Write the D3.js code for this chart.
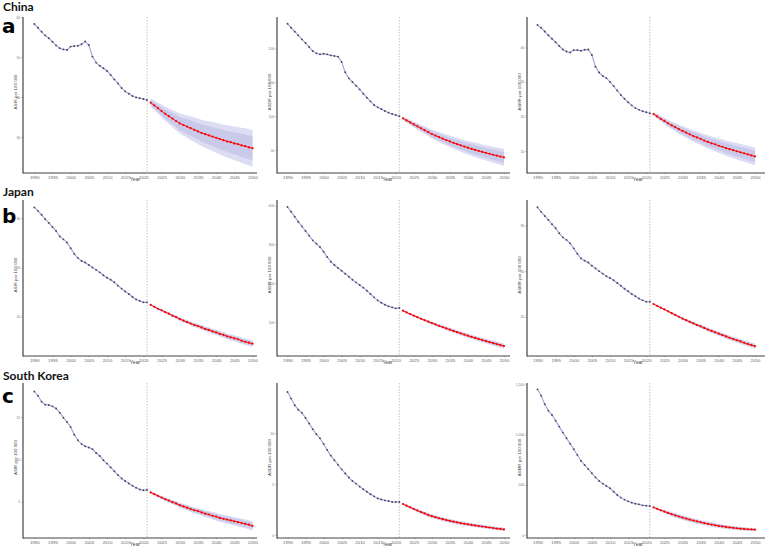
<!DOCTYPE html>
<html><head><meta charset="utf-8">
<script src="https://cdn.jsdelivr.net/npm/d3@7"></script>
<style>body{margin:0;background:#fff}svg{display:block}</style>
</head><body>
<svg id="chart" width="770" height="551"></svg>
<script>
// ---------- categories / labels ----------
const histYears = d3.range(1990, 2022);
const projYears = d3.range(2022, 2051);
const xTickYears = [1990,1995,2000,2005,2010,2015,2020,2025,2030,2035,2040,2045,2050];
const countries = ["China", "Japan", "South Korea"];
const panelLetters = ["a", "b", "c"];
const measureLabels = ["ASIR per 100 000", "ASDR per 100 000", "ASMR per 100 000"];
const cutYear = 2021;

// ---------- China ----------
const chinaIncHist = [58.25,57.3,56.3,55.4,54.7,53.8,52.9,52.2,51.9,51.75,52.6,52.75,52.8,53.2,53.9,53.0,50.1,48.6,47.8,47.2,46.5,45.5,44.4,43.4,42.25,41.4,40.8,40.25,39.9,39.7,39.5,39.25];
const chinaIncProj = [38.6,37.9,37.2,36.5,35.8,35.2,34.6,34.0,33.4,33.0,32.6,32.2,31.8,31.4,31.0,30.7,30.4,30.1,29.8,29.5,29.2,28.9,28.7,28.4,28.2,27.9,27.7,27.4,27.2];
const chinaIncSE = [0.52,0.61,0.71,0.80,0.90,0.99,1.09,1.18,1.27,1.35,1.42,1.49,1.56,1.62,1.68,1.73,1.79,1.85,1.91,1.96,2.01,2.05,2.10,2.15,2.19,2.24,2.28,2.31,2.36];
const chinaIncTicks = [30,40,50,60];

const chinaDalyHist = [236.3,230.4,224.6,219.1,213.2,207.8,201.9,196.0,192.6,191.1,192.1,191.1,189.6,188.7,187.7,179.8,164.6,155.7,150.3,144.9,139.5,133.1,127.2,121.8,116.4,112.9,110.5,107.5,105.1,103.1,101.6,99.7];
const chinaDalyProj = [96.7,93.7,90.7,87.8,84.9,82.0,79.2,76.4,73.6,71.3,69.0,66.8,64.7,62.6,60.6,58.7,56.9,55.1,53.4,51.8,50.2,48.7,47.2,45.8,44.4,43.0,41.7,40.4,39.1];
const chinaDalySE = [1.39,1.64,1.89,2.14,2.39,2.65,2.90,3.15,3.40,3.59,3.78,3.97,4.16,4.32,4.47,4.63,4.79,4.95,5.10,5.23,5.36,5.48,5.61,5.73,5.86,5.99,6.08,6.17,6.30];
const chinaDalyTicks = [50,100,150,200];

const chinaMortHist = [46.5,45.7,44.6,43.5,42.5,41.5,40.4,39.4,38.8,38.5,39.2,39.2,39.0,39.3,39.4,37.8,34.4,32.7,31.7,31.1,30.0,28.8,27.5,26.2,25.1,24.1,23.2,22.4,21.9,21.5,21.2,20.9];
const chinaMortProj = [20.7,20.0,19.3,18.7,18.0,17.4,16.9,16.3,15.8,15.3,14.8,14.3,13.9,13.5,13.0,12.6,12.2,11.9,11.5,11.2,10.8,10.5,10.2,9.9,9.6,9.3,9.0,8.7,8.4];
const chinaMortSE = [0.29,0.35,0.40,0.45,0.51,0.56,0.61,0.67,0.72,0.76,0.80,0.84,0.88,0.91,0.94,0.98,1.01,1.04,1.08,1.10,1.13,1.16,1.18,1.21,1.24,1.26,1.28,1.30,1.33];
const chinaMortTicks = [10,20,30,40];

// ---------- Japan ----------
const japanIncHist = [32.2,31.5,30.7,29.8,29.05,28.2,27.4,26.3,25.7,25.05,23.9,22.75,21.9,21.3,21.0,20.5,20.0,19.5,19.0,18.4,17.9,17.5,17.0,16.3,15.7,15.1,14.6,14.0,13.5,13.2,12.9,12.9];
const japanIncProj = [12.4,12.0,11.6,11.3,10.9,10.6,10.2,9.9,9.5,9.2,8.9,8.6,8.3,8.1,7.8,7.5,7.3,7.0,6.8,6.5,6.3,6.0,5.8,5.6,5.4,5.1,4.9,4.7,4.5];
const japanIncSE = [0.08,0.09,0.11,0.12,0.13,0.15,0.16,0.18,0.19,0.20,0.21,0.22,0.23,0.24,0.25,0.26,0.27,0.27,0.28,0.29,0.30,0.30,0.31,0.32,0.33,0.33,0.34,0.34,0.35];
const japanIncTicks = [10,20,30];

const japanDalyHist = [396.6,384.6,371.7,358.8,346.8,334.7,322.7,310.7,302.1,293.5,281.4,267.7,255.6,247.0,239.3,232.4,224.7,216.9,209.2,202.3,195.4,188.6,180.8,172.2,163.6,155.9,149.9,144.7,140.4,137.8,135.3,136.1];
const japanDalyProj = [129.2,124.8,120.5,116.4,112.4,108.5,104.7,101.0,97.4,93.8,90.3,86.9,83.6,80.3,77.1,73.9,70.8,67.7,64.7,61.8,59.0,56.2,53.5,50.8,48.2,45.6,43.1,40.6,38.1];
const japanDalySE = [0.77,0.91,1.05,1.19,1.33,1.47,1.61,1.75,1.89,2.00,2.10,2.20,2.31,2.40,2.49,2.57,2.66,2.75,2.84,2.91,2.98,3.05,3.12,3.19,3.26,3.33,3.38,3.43,3.50];
const japanDalyTicks = [100,200,300,400];

const japanMortHist = [34.0,33.0,32.1,31.2,30.3,29.4,28.3,27.4,26.85,26.1,25.0,23.8,22.8,22.3,21.9,21.2,20.6,20.0,19.45,18.9,18.5,18.0,17.4,16.8,16.15,15.6,15.0,14.5,14.0,13.6,13.3,13.3];
const japanMortProj = [12.8,12.4,12.0,11.6,11.2,10.8,10.4,10.0,9.6,9.25,8.9,8.55,8.2,7.9,7.55,7.2,6.9,6.6,6.3,6.0,5.7,5.4,5.1,4.85,4.6,4.3,4.05,3.8,3.55];
const japanMortSE = [0.07,0.08,0.09,0.10,0.11,0.13,0.14,0.15,0.16,0.17,0.18,0.19,0.20,0.21,0.21,0.22,0.23,0.24,0.24,0.25,0.26,0.26,0.27,0.27,0.28,0.29,0.29,0.29,0.30];
const japanMortTicks = [10,20,30];

// ---------- South Korea ----------
const koreaIncHist = [18.0,17.5,16.8,16.45,16.4,16.25,16.0,15.5,14.9,14.4,13.8,12.9,12.25,11.8,11.55,11.4,11.2,10.75,10.4,9.9,9.5,9.05,8.6,8.15,7.75,7.45,7.15,6.9,6.65,6.45,6.35,6.4];
const koreaIncProj = [6.1,5.9,5.7,5.5,5.3,5.15,4.95,4.8,4.6,4.45,4.3,4.15,4.0,3.9,3.75,3.6,3.5,3.35,3.25,3.1,3.0,2.9,2.8,2.7,2.6,2.5,2.4,2.3,2.15];
const koreaIncSE = [0.06,0.07,0.08,0.10,0.11,0.12,0.13,0.14,0.15,0.16,0.17,0.18,0.18,0.19,0.20,0.21,0.21,0.22,0.23,0.23,0.24,0.24,0.25,0.25,0.26,0.27,0.27,0.27,0.28];
const koreaIncTicks = [5,10,15];

const koreaDalyHist = [14.05,13.4,12.75,12.3,12.0,11.5,10.95,10.4,9.9,9.5,8.95,8.35,7.8,7.35,6.9,6.45,6.05,5.65,5.3,5.05,4.75,4.5,4.25,4.0,3.8,3.6,3.5,3.4,3.35,3.25,3.25,3.25];
const koreaDalyProj = [3.05,2.88,2.72,2.56,2.41,2.26,2.12,1.98,1.85,1.75,1.65,1.56,1.47,1.39,1.31,1.24,1.17,1.11,1.05,0.99,0.94,0.89,0.84,0.79,0.74,0.69,0.64,0.60,0.55];
const koreaDalySE = [0.05,0.06,0.07,0.08,0.09,0.095,0.10,0.10,0.10,0.10,0.10,0.10,0.10,0.10,0.10,0.10,0.10,0.095,0.095,0.09,0.09,0.09,0.09,0.085,0.085,0.085,0.08,0.08,0.08];
const koreaDalyTicks = [0,5,10];

const koreaMortHist = [1450,1387,1301,1238,1195,1138,1079,1019,963,909,853,797,737,697,657,614,574,538,511,488,465,431,398,372,352,335,322,312,305,295,292,289];
const koreaMortProj = [275,260,246,233,220,207,195,184,173,163,153,144,135,127,119,111,104,97,90,85,80,75,71,67,63,60,57,55,53];
const koreaMortSE = [5,6,7,8,9,10,11,11.5,12,12,12,12,12,11.5,11.5,11,11,11,10.5,10.5,10,10,10,9.5,9.5,9,9,8.5,8.5];
const koreaMortTicks = [0,500,1000,1500];

// ---------- layout (positions / scales, not data) ----------
const rowTop = [17, 200, 383];
const rowBottom = [173, 356, 538];
const titleY = [11.2, 196.2, 380.2];
const letterY = [32.6, 223, 403.4];
const colAxisX = [23, 277, 527];
const colX0 = [34.3, 287.5, 537.5];
const colX1 = [252.5, 504, 755];
const colAxisEnd = [257, 510, 765];
const yDomains = [
  [[21, 60], [16.1, 246.2], [3.6, 48.8]],
  [[2.0, 33.7], [12.4, 414.7], [1.4, 35.6]],
  [[0.73, 19.0], [-0.29, 14.93], [-30, 1513]]
];

const panels = [
  [ {h: chinaIncHist, p: chinaIncProj, se: chinaIncSE, t: chinaIncTicks},
    {h: chinaDalyHist, p: chinaDalyProj, se: chinaDalySE, t: chinaDalyTicks},
    {h: chinaMortHist, p: chinaMortProj, se: chinaMortSE, t: chinaMortTicks} ],
  [ {h: japanIncHist, p: japanIncProj, se: japanIncSE, t: japanIncTicks},
    {h: japanDalyHist, p: japanDalyProj, se: japanDalySE, t: japanDalyTicks},
    {h: japanMortHist, p: japanMortProj, se: japanMortSE, t: japanMortTicks} ],
  [ {h: koreaIncHist, p: koreaIncProj, se: koreaIncSE, t: koreaIncTicks},
    {h: koreaDalyHist, p: koreaDalyProj, se: koreaDalySE, t: koreaDalyTicks},
    {h: koreaMortHist, p: koreaMortProj, se: koreaMortSE, t: koreaMortTicks} ]
];

const Z95 = 1.96, Z80 = 1.2816;
const svg = d3.select("#chart");
const FONT = "'Liberation Sans', Arial, sans-serif";

for (let r = 0; r < 3; r++) {
  svg.append("text").attr("x", 3).attr("y", titleY[r])
    .attr("font-family", "Lato, 'Open Sans', sans-serif").attr("font-weight", 700)
    .attr("font-size", 12).attr("fill", "#111").text(countries[r]);
  svg.append("text").attr("x", 2).attr("y", letterY[r])
    .attr("font-family", "'DejaVu Sans', sans-serif").attr("font-weight", 700)
    .attr("font-size", 20).attr("fill", "#000").text(panelLetters[r]);

  for (let c = 0; c < 3; c++) {
    const d = panels[r][c];
    const x = d3.scaleLinear().domain([1990, 2050]).range([colX0[c], colX1[c]]);
    const y = d3.scaleLinear().domain(yDomains[r][c]).range([rowBottom[r], rowTop[r]]);
    const g = svg.append("g");

    const proj = projYears.map((yr, i) => ({yr, v: d.p[i], se: d.se[i]}));
    const hist = histYears.map((yr, i) => ({yr, v: d.h[i]}));

    const area95 = d3.area().x(e => x(e.yr)).y0(e => y(e.v - Z95 * e.se)).y1(e => y(e.v + Z95 * e.se)).curve(d3.curveMonotoneX);
    const area80 = d3.area().x(e => x(e.yr)).y0(e => y(e.v - Z80 * e.se)).y1(e => y(e.v + Z80 * e.se)).curve(d3.curveMonotoneX);
    g.append("path").datum(proj).attr("d", area95).attr("fill", "#dcdcf3");
    g.append("path").datum(proj).attr("d", area80).attr("fill", "#c9c9ea");

    // cut line
    g.append("line").attr("x1", x(cutYear)).attr("x2", x(cutYear))
      .attr("y1", rowTop[r]).attr("y2", rowBottom[r])
      .attr("stroke", "#9a9a9a").attr("stroke-width", 0.6).attr("stroke-dasharray", "1.5,1.5");

    const line = d3.line().x(e => x(e.yr)).y(e => y(e.v));
    g.append("path").datum(hist).attr("d", line).attr("fill", "none")
      .attr("stroke", "#a0a0d8").attr("stroke-width", 1.1);
    g.selectAll(".hp").data(hist).join("circle")
      .attr("cx", e => x(e.yr)).attr("cy", e => y(e.v)).attr("r", 0.95).attr("fill", "#46465f");

    g.append("path").datum(proj).attr("d", line).attr("fill", "none")
      .attr("stroke", "#ee1111").attr("stroke-width", 1);
    g.selectAll(".pp").data(proj).join("circle")
      .attr("cx", e => x(e.yr)).attr("cy", e => y(e.v)).attr("r", 1.1).attr("fill", "#ff0000");

    // axes
    g.append("line").attr("x1", colAxisX[c]).attr("x2", colAxisX[c])
      .attr("y1", rowTop[r]).attr("y2", rowBottom[r] + 0.6).attr("stroke", "#444").attr("stroke-width", 1.2);
    g.append("line").attr("x1", colAxisX[c]).attr("x2", colAxisEnd[c])
      .attr("y1", rowBottom[r]).attr("y2", rowBottom[r]).attr("stroke", "#444").attr("stroke-width", 1.2);

    const yAxis = d3.axisLeft(y).tickValues(d.t).tickSize(1.6).tickPadding(1.2);
    const ya = g.append("g").attr("transform", `translate(${colAxisX[c]},0)`).call(yAxis);
    ya.select(".domain").remove();
    ya.selectAll("line").attr("stroke", "#666").attr("stroke-width", 0.5);
    ya.selectAll("text").attr("font-size", 3.4).attr("font-family", FONT).attr("fill", "#777");

    const xAxis = d3.axisBottom(x).tickValues(xTickYears).tickFormat(d3.format("d")).tickSize(1.2).tickPadding(1.2);
    const xa = g.append("g").attr("transform", `translate(0,${rowBottom[r]})`).call(xAxis);
    xa.select(".domain").remove();
    xa.selectAll("line").attr("stroke", "#666").attr("stroke-width", 0.5);
    xa.selectAll("text").attr("font-size", 4.4).attr("font-family", FONT).attr("fill", "#666");

    g.append("text").attr("x", x(2017.7)).attr("y", rowBottom[r] + 7.8)
      .attr("text-anchor", "middle").attr("font-family", FONT).attr("font-size", 5)
      .attr("fill", "#444").text("Year");

    const midY = (rowTop[r] + rowBottom[r]) / 2 - 3;
    g.append("text").attr("transform", `translate(${colAxisX[c] - 5.6},${midY}) rotate(-90)`)
      .attr("text-anchor", "middle").attr("font-family", FONT).attr("font-size", 4.4)
      .attr("fill", "#444").text(measureLabels[c]);
  }
}
</script>
</body></html>
